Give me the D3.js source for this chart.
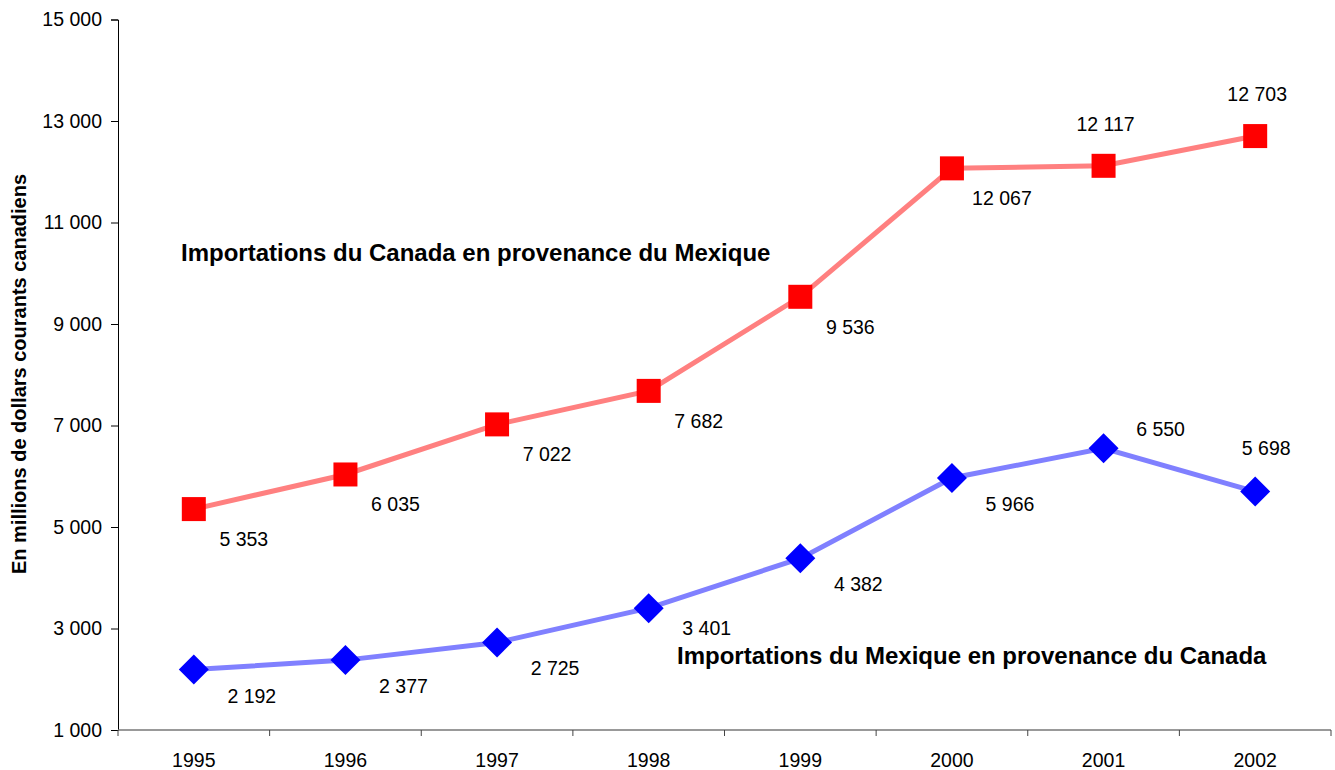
<!DOCTYPE html>
<html lang="fr">
<head>
<meta charset="UTF-8">
<title>Importations Canada / Mexique</title>
<script src="https://d3js.org/d3.v7.min.js"></script>
<style>
  body { margin: 0; background: #fff; font-family: "Liberation Sans", Arial, sans-serif; }
  .ytick text { font-size: 19.5px; }
  .xtick text { font-size: 19.5px; }
  .vlabel { font-size: 19.5px; fill: #000; }
  .slabel { font-size: 24px; font-weight: bold; fill: #000; }
</style>
</head>
<body>
<svg width="1335" height="770"></svg>
<script>
// Data
const years = ["1995", "1996", "1997", "1998", "1999", "2000", "2001", "2002"];
const canadaFromMexico = [5353, 6035, 7022, 7682, 9536, 12067, 12117, 12703];
const mexicoFromCanada = [2192, 2377, 2725, 3401, 4382, 5966, 6550, 5698];
const yTicks = [1000, 3000, 5000, 7000, 9000, 11000, 13000, 15000];
// where the value label sits relative to its point
const redPlace = ["below", "below", "below", "below", "below", "below", "above", "above"];
const bluePlace = ["below", "below", "below", "near", "below", "below", "right", "above"];

const fr = d3.formatLocale({ decimal: ",", thousands: " ", grouping: [3], currency: ["", ""] });
const fmt = fr.format(",d");

const svg = d3.select("svg");
const margin = { top: 19.5, left: 118 };
const width = 1331 - margin.left;
const height = 730 - margin.top;

const g = svg.append("g").attr("transform", `translate(${margin.left},${margin.top})`);

const x = d3.scaleBand().domain(years).range([0, width]).padding(0);
const y = d3.scaleLinear().domain([1000, 15000]).range([height, 0]);
const cx = d => x(d) + x.bandwidth() / 2;

// y axis
const yAx = g.append("g").attr("class", "ytick")
  .call(d3.axisLeft(y).tickValues(yTicks).tickFormat(fmt).tickSize(7).tickPadding(9));
yAx.select(".domain").attr("stroke", "#000");
yAx.selectAll("text").attr("font-family", "Liberation Sans, Arial, sans-serif");

// x axis: ticks between categories
const xAx = g.append("g").attr("class", "xtick").attr("transform", `translate(0,${height})`);
xAx.append("line").attr("x1", 0).attr("x2", width).attr("stroke", "#777").attr("stroke-width", 1.5);
xAx.selectAll("line.tk").data(d3.range(years.length + 1)).join("line")
  .attr("class", "tk")
  .attr("x1", i => i * x.bandwidth()).attr("x2", i => i * x.bandwidth())
  .attr("y1", 0).attr("y2", 6).attr("stroke", "#444");
xAx.selectAll("text").data(years).join("text")
  .attr("x", d => cx(d)).attr("y", 37)
  .attr("text-anchor", "middle").attr("font-family", "Liberation Sans, Arial, sans-serif")
  .text(d => d);

// y axis title
svg.append("text").attr("class", "slabel")
  .attr("transform", "translate(26,374) rotate(-90)")
  .attr("text-anchor", "middle")
  .style("font-size", "20px")
  .text("En millions de dollars courants canadiens");

const line = d3.line().x((d, i) => cx(years[i])).y(d => y(d));

// Canada from Mexico (red)
g.append("path").datum(canadaFromMexico)
  .attr("d", line).attr("fill", "none").attr("stroke", "#ff8080").attr("stroke-width", 5);
g.selectAll("rect.red").data(canadaFromMexico).join("rect")
  .attr("class", "red")
  .attr("x", (d, i) => cx(years[i]) - 12).attr("y", d => y(d) - 12)
  .attr("width", 24).attr("height", 24).attr("fill", "#ff0000");

// Mexico from Canada (blue)
g.append("path").datum(mexicoFromCanada)
  .attr("d", line).attr("fill", "none").attr("stroke", "#8080ff").attr("stroke-width", 5);
g.selectAll("path.blue").data(mexicoFromCanada).join("path")
  .attr("class", "blue")
  .attr("transform", (d, i) => `translate(${cx(years[i])},${y(d)})`)
  .attr("d", "M0,-15L15,0L0,15L-15,0Z").attr("fill", "#0000ff");

const redOffsets = { below: [50, 37], above: [2, -35] };
const blueOffsets = { below: [58, 33], near: [58, 27], right: [57, -12], above: [11, -37] };

function addLabels(vals, places, offsets) {
  g.append("g").selectAll("text").data(vals).join("text")
    .attr("class", "vlabel").attr("text-anchor", "middle")
    .attr("x", (d, i) => cx(years[i]) + offsets[places[i]][0])
    .attr("y", (d, i) => y(d) + offsets[places[i]][1])
    .text(d => fmt(d));
}
addLabels(canadaFromMexico, redPlace, redOffsets);
addLabels(mexicoFromCanada, bluePlace, blueOffsets);

// series labels
svg.append("text").attr("class", "slabel").attr("x", 181).attr("y", 261)
  .text("Importations du Canada en provenance du Mexique");
svg.append("text").attr("class", "slabel").attr("x", 677).attr("y", 664)
  .text("Importations du Mexique en provenance du Canada");
</script>
</body>
</html>
